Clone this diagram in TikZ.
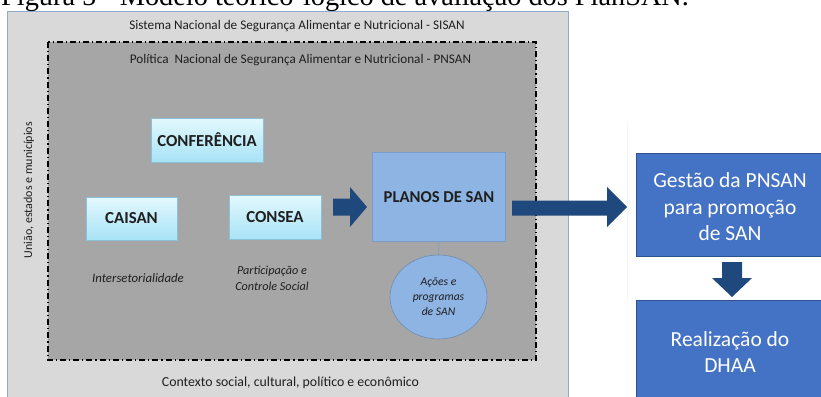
\documentclass[tikz,border=0pt]{standalone}
\usepackage{fontspec}
\setmainfont{Carlito}
\newfontfamily\capfont{Liberation Serif}
\usetikzlibrary{shapes.geometric}
\definecolor{outerfill}{HTML}{D9D9D9}
\definecolor{outerline}{HTML}{8FAACB}
\definecolor{innerfill}{HTML}{A6A6A6}
\definecolor{cyantop}{HTML}{E3F8FE}
\definecolor{cyanbot}{HTML}{A8E3F6}
\definecolor{cyanline}{HTML}{8CBFD8}
\definecolor{planfill}{HTML}{8EB4E3}
\definecolor{planline}{HTML}{7A9CC8}
\definecolor{darkarrow}{HTML}{1F497D}
\definecolor{bluebox}{HTML}{4472C4}
\definecolor{blueline}{HTML}{2F528F}
\tikzset{
  cyanbox/.style={draw=cyanline, line width=0.6pt, top color=cyantop, bottom color=cyanbot,
    minimum width=#1, minimum height=44pt, inner sep=0pt, font=\fontsize{16.8}{18}\selectfont\bfseries, text=black!88},
  rightbox/.style={draw=blueline, line width=0.8pt, fill=bluebox, inner sep=0pt},
  whitetxt/.style={text=white, align=center, font=\fontsize{21.5}{26.5}\selectfont},
  ital/.style={align=center, font=\fontsize{12.2}{16}\selectfont\itshape, text=black!88},
  plain/.style={font=\fontsize{13.2}{15}\selectfont, text=black!88},
  blockarrow/.style={fill=darkarrow, draw=none}
}
\begin{document}
\begin{tikzpicture}[x=1pt,y=-1pt]
\useasboundingbox (0,0) rectangle (821,396);
% caption (cut off at top, as in the reference)
\node[anchor=base west, inner sep=0pt, font=\capfont\fontsize{28.3}{30}\selectfont] (cap) at (1,6) {Figura 5 - Modelo teórico-lógico de avaliação dos PlanSAN.};
% outer box
\draw[fill=outerfill, draw=outerline, line width=0.8pt] (7.5,11.5) rectangle (568,400);
\node[plain] (sisan) at (297,26) {Sistema Nacional de Segurança Alimentar e Nutricional - SISAN};
% inner box
\draw[fill=innerfill, draw=black, line width=1.6pt, dash pattern=on 6pt off 3pt on 1.2pt off 3pt] (48,42) rectangle (536,360);
\node[plain] (pnsan) at (300.5,60) {Política\ \ Nacional de Segurança Alimentar e Nutricional - PNSAN};
% side and bottom labels
\node[plain, rotate=90, font=\fontsize{12}{14}\selectfont] (uniao) at (29,190) {União, estados e municípios};
\node[plain, font=\fontsize{13.8}{16}\selectfont] (contexto) at (290.5,383) {Contexto social, cultural, político e econômico};
% cyan boxes
\node[cyanbox=112pt] (conf) at (207,140) {CONFERÊNCIA};
\node[cyanbox=91pt, minimum height=43pt] (caisan) at (131.5,218.5) {CAISAN};
\node[cyanbox=92pt] (consea) at (275,217) {CONSEA};
\node[ital, font=\fontsize{12.8}{16}\selectfont\itshape] (inter) at (138,278) {Intersetorialidade};
\node[ital] (part) at (272,278) {Participação e\\Controle Social};
% planos
\node[draw=planline, line width=0.6pt, fill=planfill, minimum width=133pt, minimum height=89pt, inner sep=0pt,
  font=\fontsize{16.6}{18}\selectfont\bfseries, text=black!88] (planos) at (439,197) {PLANOS DE SAN};
\node[ellipse, draw=planline!90!black, line width=0.6pt, fill=planfill, minimum width=97pt, minimum height=84pt, inner sep=0pt,
  ital, font=\fontsize{11.6}{15}\selectfont\itshape] (acoes) at (438.5,297) {Ações e\\programas\\de SAN};
\draw[draw=planline, line width=0.6pt] (planos.south) -- (acoes.north);
% small arrow consea -> planos
\fill[blockarrow] (333,198.5) -- (350,198.5) -- (350,187) -- (367,207) -- (350,227) -- (350,215.5) -- (333,215.5) -- cycle;
% faint panel line
\draw[draw=black!4, line width=0.6pt] (627,122) -- (627,302);
% right boxes
\node[rightbox, minimum width=190pt, minimum height=103pt, anchor=north west] (gestao) at (636,153) {};
\node[whitetxt] (gestaotxt) at (730,207) {Gestão da PNSAN\\para promoção\\de SAN};
\node[rightbox, minimum width=190pt, minimum height=100pt, anchor=north west] (realiz) at (636,300) {};
\node[whitetxt] (realiztxt) at (730,352) {Realização do\\DHAA};
% big arrow planos -> gestao
\fill[blockarrow] (512,200.5) -- (607,200.5) -- (607,187) -- (627,207) -- (607,227) -- (607,215.5) -- (512,215.5) -- cycle;
% down arrow gestao -> realiz
\fill[blockarrow] (722,262) -- (742,262) -- (742,278) -- (752,278) -- (732,297) -- (712,278) -- (722,278) -- cycle;
\end{tikzpicture}
\end{document}
